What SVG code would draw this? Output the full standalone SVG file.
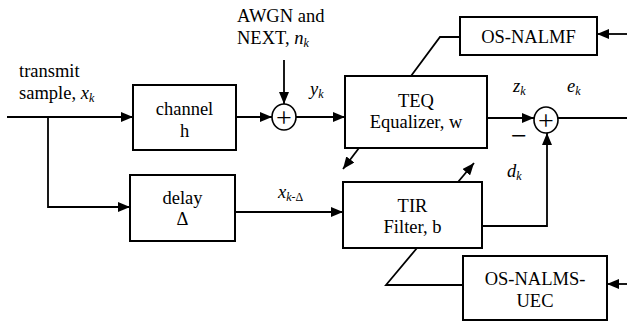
<svg xmlns="http://www.w3.org/2000/svg" width="627" height="322" viewBox="0 0 627 322" font-family="'Liberation Serif', 'Times New Roman', 'DejaVu Serif', serif">
<defs>
<marker id="ah" viewBox="0 0 12 10" refX="12" refY="5" markerWidth="12" markerHeight="10" markerUnits="userSpaceOnUse" orient="auto">
<path d="M0,0 L12,5 L0,10 Z" fill="#000"/>
</marker>
</defs>
<style>
.box{fill:#fff;stroke:#000;stroke-width:2}
.sum{fill:#fff;stroke:#000;stroke-width:1.6}
.ln{fill:none;stroke:#000;stroke-width:1.8}
.arr{fill:none;stroke:#000;stroke-width:1.8;marker-end:url(#ah)}
text{font-family:'Liberation Serif','Times New Roman','DejaVu Serif',serif;font-size:18.5px;fill:#000}
.c{text-anchor:middle}
.i{font-style:italic}
.s{font-size:12px;font-style:italic}
.p{font-size:28px}
</style>
<rect width="627" height="322" fill="#fff"/>
<g id="connectors">
<path class="arr" d="M7,117 H133"/>
<path class="arr" d="M48,117 V207 H130"/>
<path class="arr" d="M236,117 H272"/>
<path class="arr" d="M284,60 V104"/>
<path class="arr" d="M296,117 H345"/>
<path class="arr" d="M487,118 H534"/>
<path class="ln" d="M558,118 H627"/>
<path class="arr" d="M235,212 H343"/>
<path class="arr" d="M482,226 H547 V133"/>
<path class="arr" d="M627,34 H597"/>
<path class="ln" d="M460,37 H440 L411,76"/>
<path class="arr" d="M359,148 L343,169"/>
<path class="arr" d="M458,182 L474,163"/>
<path class="arr" d="M627,284 H607"/>
<path class="ln" d="M463,285 H386 L417,248"/>
</g>
<g id="labels">
<text x="19" y="77">transmit</text>
<text x="19" y="99">sample, <tspan class="i">x</tspan><tspan class="s" dy="3">k</tspan></text>
<text x="237" y="22">AWGN and</text>
<text x="237" y="44">NEXT, <tspan class="i">n</tspan><tspan class="s" dy="3">k</tspan></text>
<text x="310" y="95" class="i">y<tspan class="s" dy="3">k</tspan></text>
<text x="513" y="92" class="i">z<tspan class="s" dy="3">k</tspan></text>
<text x="567" y="92" class="i">e<tspan class="s" dy="3">k</tspan></text>
<text x="511" y="145" class="p">−</text>
<text x="278" y="198" class="i">x<tspan class="s" dy="3">k</tspan><tspan font-size="12" font-style="normal">-Δ</tspan></text>
<text x="507" y="177" class="i">d<tspan class="s" dy="3">k</tspan></text>
</g>
<g id="channel">
<rect class="box" x="133" y="85" width="103" height="65"/>
<text class="c" x="184.5" y="115">channel</text>
<text class="c" x="184.5" y="137">h</text>
</g>
<g id="sum1">
<ellipse class="sum" cx="284" cy="117" rx="12" ry="13"/>
<text class="c p" x="284" y="127">+</text>
</g>
<g id="teq">
<rect class="box" x="345" y="76" width="142" height="72"/>
<text class="c" x="416" y="107">TEQ</text>
<text class="c" x="416" y="128">Equalizer, w</text>
</g>
<g id="sum2">
<ellipse class="sum" cx="546" cy="120" rx="12" ry="13"/>
<text class="c p" x="546" y="130">+</text>
</g>
<g id="osnalmf">
<rect class="box" x="460" y="17" width="137" height="38"/>
<text class="c" x="528.5" y="43">OS-NALMF</text>
</g>
<g id="delay">
<rect class="box" x="130" y="175" width="105" height="66"/>
<text class="c" x="182.5" y="204">delay</text>
<text class="c" x="182.5" y="225">Δ</text>
</g>
<g id="tir">
<rect class="box" x="343" y="182" width="139" height="66"/>
<text class="c" x="412.5" y="212">TIR</text>
<text class="c" x="412.5" y="233">Filter, b</text>
</g>
<g id="osnalmsuec">
<rect class="box" x="463" y="256" width="144" height="64"/>
<text class="c" x="535" y="285">OS-NALMS-</text>
<text class="c" x="535" y="307">UEC</text>
</g>
</svg>
